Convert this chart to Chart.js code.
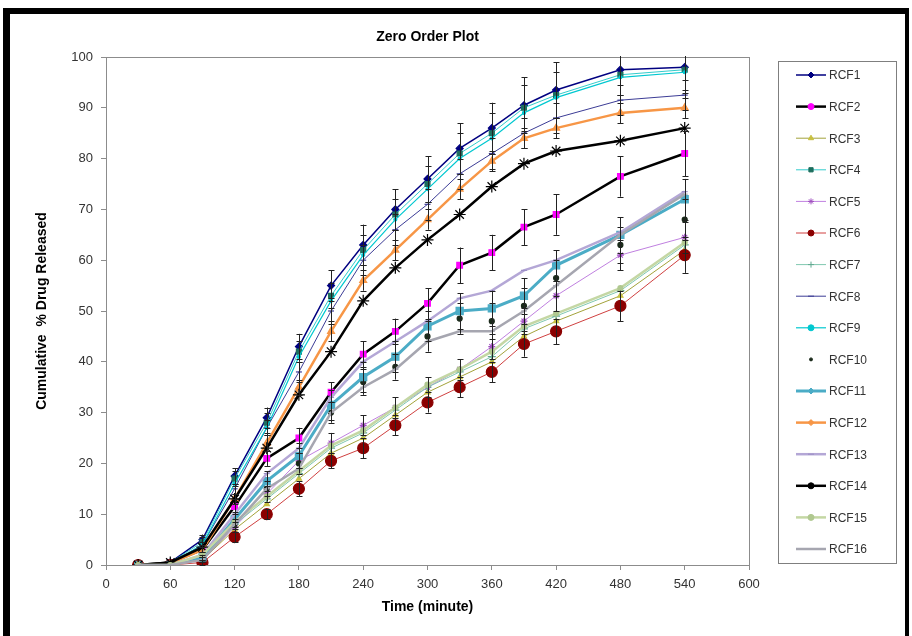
<!DOCTYPE html>
<html>
<head>
<meta charset="utf-8">
<script src="https://cdn.jsdelivr.net/npm/chart.js@4.4.1/dist/chart.umd.min.js"></script>
<style>
  html, body { margin: 0; padding: 0; background: #fff; }
  #wrap { position: relative; width: 912px; height: 636px; }
</style>
</head>
<body>
<div id="wrap"><canvas id="myChart" width="912" height="636"></canvas></div>
<script>
// --- dados ---
var time = [30, 60, 90, 120, 150, 180, 210, 240, 270, 300, 330, 360, 390, 420, 480, 540];
var xTicks = [0, 60, 120, 180, 240, 300, 360, 420, 480, 540, 600];
var seriesNames = ['RCF1','RCF2','RCF3','RCF4','RCF5','RCF6','RCF7','RCF8','RCF9','RCF10','RCF11','RCF12','RCF13','RCF14','RCF15','RCF16'];

var rcf1  = [0, 0.5, 5, 17.5, 29, 43, 55, 63, 70, 76, 82, 86, 90.5, 93.5, 97.5, 98];
var rcf2  = [0, 0.5, 3, 11.5, 21, 25, 34, 41.5, 46, 51.5, 59, 61.5, 66.5, 69, 76.5, 81];
var rcf3  = [0, 0, 1, 7, 12, 17, 22, 25, 29.5, 34, 37, 40, 45, 48, 53, 62];
var rcf4  = [0, 0.5, 4.5, 17, 28, 42, 53, 62, 69, 75, 81, 85, 90, 92.5, 96.5, 97.5];
var rcf5  = [0, 0, 1, 7.5, 14, 20.5, 24, 27.5, 31, 35, 38.5, 43, 48, 53, 61, 64.5];
var rcf6  = [0, 0, 0.5, 5.5, 10, 15, 20.5, 23, 27.5, 32, 35, 38, 43.5, 46, 51, 61];
var rcf7  = [0, 0, 1.5, 8, 13, 18, 23, 26, 30.5, 35, 38, 41, 46.5, 49, 54, 63];
var rcf8  = [0, 0.3, 4, 15, 27, 38, 50, 60, 66, 71, 77, 81, 85, 88, 91.5, 92.5];
var rcf9  = [0, 0.3, 4, 16, 27, 41, 52, 61, 68, 74, 80, 84, 89, 92, 96, 97];
var rcf10 = [0, 0, 1, 8, 15, 20, 30, 36, 39, 45, 48.5, 48, 51, 56.5, 63, 68];
var rcf11 = [0, 0, 1.5, 9, 16.5, 21.5, 31.5, 37, 41, 47, 50, 50.5, 53, 59, 65, 72];
var rcf12 = [0, 0.3, 3, 13, 24, 35, 46, 56, 62, 68, 74, 79.5, 84, 86, 89, 90];
var rcf13 = [0, 0, 2, 10, 18, 23, 33, 40, 44, 48, 52.5, 54, 58, 60, 65.5, 73.5];
var rcf14 = [0, 0.5, 3.5, 13, 23, 33.5, 42, 52, 58.5, 64, 69, 74.5, 79, 81.5, 83.5, 86];
var rcf15 = [0, 0, 2, 8.5, 13.5, 18.5, 23.5, 26.5, 31, 35.5, 38.5, 42, 47, 49.5, 54.5, 63.5];
var rcf16 = [0, 0, 1, 8, 15, 19, 30, 35, 38.5, 44, 46, 46, 50, 55, 65, 73];

// desvios (barras de erro)
var rcf1Err  = [0, 0, 1, 1.5, 2, 2.5, 3, 4, 4, 4.5, 5, 5, 5.5, 5.5, 5, 5];
var rcf2Err  = [0, 0, 0.5, 1.5, 1.5, 2, 2, 2.5, 2.5, 3, 3.5, 3.5, 3.5, 4, 4, 4.5];
var rcf4Err  = [0, 0, 1, 1.5, 2, 2, 2.5, 3, 3, 3.5, 4, 4, 4.5, 4.5, 4, 4];
var rcf5Err  = [0, 0, 0.5, 1, 1.5, 1.5, 2, 2, 2, 2, 2, 2.5, 2.5, 3, 3, 3];
var rcf6Err  = [0, 0, 0.5, 1, 1, 1.5, 1.5, 2, 2, 2, 2, 2, 2.5, 2.5, 3, 3.5];
var rcf8Err  = [0, 0, 0.5, 1, 1.5, 2, 2.5, 3, 3, 3, 3, 3, 3, 3, 3, 3];
var rcf10Err = [0, 0, 0.5, 1, 1.5, 2, 2, 2.5, 2.5, 3, 3, 3.5, 3.5, 3.5, 3.5, 4];
var rcf11Err = [0, 0, 0.5, 1.5, 2, 2.5, 3, 3, 3, 3, 3.5, 3.5, 3.5, 3, 3.5, 4];
var rcf12Err = [0, 0, 0.5, 1, 1.5, 1.5, 2, 2, 2, 2, 2, 2, 2, 2, 2, 2];

function pts(arr) {
  return time.map(function (t, i) { return { x: t, y: arr[i] }; });
}

// estilo de cada série (estilo Excel)
var styles = [
  { data: rcf1,  err: rcf1Err,  line: '#000080', lw: 1.5, pt: 'rectRot',  r: 3.5, fill: '#000080' },
  { data: rcf2,  err: rcf2Err,  line: '#000000', lw: 2.5, pt: 'rect',     r: 4,   fill: '#FF00FF' },
  { data: rcf3,  err: null,     line: '#A3A33A', lw: 1,   pt: 'triangle', r: 3,   fill: '#C8C040' },
  { data: rcf4,  err: rcf4Err,  line: '#33CCCC', lw: 1,   pt: 'rect',     r: 3.5, fill: '#1E6E5E' },
  { data: rcf5,  err: rcf5Err,  line: '#C080E0', lw: 1,   pt: 'star',     r: 3.5, fill: '#A050C0' },
  { data: rcf6,  err: rcf6Err,  line: '#D04040', lw: 1,   pt: 'circle',   r: 5.5, fill: '#8B0000' },
  { data: rcf7,  err: null,     line: '#80C8B0', lw: 1,   pt: 'cross',    r: 4,   fill: '#60A890' },
  { data: rcf8,  err: rcf8Err,  line: '#3C3C96', lw: 1,   pt: 'line',     r: 3,   fill: '#3C3C96' },
  { data: rcf9,  err: null,     line: '#00C8D0', lw: 1.2, pt: 'circle',   r: 1.5, fill: '#00C8D0' },
  { data: rcf10, err: rcf10Err, line: null,      lw: 0,   pt: 'circle',   r: 2.5, fill: '#1A2A1A' },
  { data: rcf11, err: rcf11Err, line: '#4BACC6', lw: 3,   pt: 'rect',     r: 5,   fill: '#4BACC6' },
  { data: rcf12, err: rcf12Err, line: '#F79646', lw: 2.5, pt: 'triangle', r: 4,   fill: '#F79646' },
  { data: rcf13, err: null,     line: '#B4A7D6', lw: 2.5, pt: 'line',     r: 3,   fill: '#9C8FC6' },
  { data: rcf14, err: null,     line: '#000000', lw: 2.5, pt: 'star',     r: 6,   fill: '#000000' },
  { data: rcf15, err: null,     line: '#C4D7A4', lw: 2.5, pt: 'circle',   r: 2.5, fill: '#B0C890' },
  { data: rcf16, err: null,     line: '#A6A6B0', lw: 2.5, pt: 'line',     r: 3,   fill: '#A6A6B0' }
];
// marcador na legenda (RCF14 aparece como bolinha)
var legendMarker = ['rectRot','circle','triangle','rect','star','circle','cross','line','circle','circle','rectRot','rectRot','line','circle','circle','line'];

var datasets = styles.map(function (s, i) {
  return {
    label: seriesNames[i],
    data: pts(s.data),
    errors: s.err,
    borderColor: s.line || s.fill,
    borderWidth: s.lw,
    showLine: !!s.line,
    backgroundColor: s.fill,
    pointStyle: s.pt,
    pointRadius: s.r,
    pointBorderColor: s.fill,
    pointBackgroundColor: s.fill,
    pointBorderWidth: 1.2,
    tension: 0,
    order: 16 - i
  };
});

// moldura preta + borda da área do gráfico
var framePlugin = {
  id: 'frame',
  beforeDraw: function (chart) {
    var c = chart.ctx;
    c.save();
    c.fillStyle = '#fff';
    c.fillRect(0, 0, chart.width, chart.height);
    c.fillStyle = '#000';
    c.fillRect(3, 8, 906, 6);   // topo
    c.fillRect(3, 8, 7, 628);   // esquerda
    c.fillRect(905, 8, 4, 628); // direita
    c.restore();
  },
  beforeDatasetsDraw: function (chart) {
    var a = chart.chartArea, c = chart.ctx;
    c.save();
    c.strokeStyle = '#8c8c8c';
    c.lineWidth = 1;
    c.strokeRect(Math.round(a.left) + 0.5, Math.round(a.top) + 0.5, Math.round(a.right - a.left), Math.round(a.bottom - a.top));
    c.restore();
  }
};

// barras de erro
var errorBarPlugin = {
  id: 'errbars',
  afterDatasetsDraw: function (chart) {
    var c = chart.ctx, ys = chart.scales.y, a = chart.chartArea;
    c.save();
    c.beginPath();
    c.rect(a.left, a.top - 1, a.right - a.left, a.bottom - a.top + 2);
    c.clip();
    c.strokeStyle = '#222';
    c.lineWidth = 1;
    chart.data.datasets.forEach(function (ds, di) {
      if (!ds.errors) return;
      var meta = chart.getDatasetMeta(di);
      meta.data.forEach(function (p, i) {
        var e = ds.errors[i];
        if (!e) return;
        var v = ds.data[i].y;
        var x = Math.round(p.x) + 0.5;
        var y1 = ys.getPixelForValue(v + e), y2 = ys.getPixelForValue(v - e);
        c.beginPath();
        c.moveTo(x, y1); c.lineTo(x, y2);
        c.moveTo(x - 3, Math.round(y1) + 0.5); c.lineTo(x + 3, Math.round(y1) + 0.5);
        c.moveTo(x - 3, Math.round(y2) + 0.5); c.lineTo(x + 3, Math.round(y2) + 0.5);
        c.stroke();
      });
    });
    c.restore();
  }
};

// legenda desenhada à mão (linha + marcador)
var legendPlugin = {
  id: 'boxLegend',
  afterDraw: function (chart) {
    var c = chart.ctx;
    var bx = 778, by = 61, bw = 118, bh = 502;
    c.save();
    c.strokeStyle = '#7f7f7f';
    c.lineWidth = 1;
    c.strokeRect(bx + 0.5, by + 0.5, bw, bh);
    c.font = '12px "Liberation Sans", Arial, sans-serif';
    c.textBaseline = 'middle';
    chart.data.datasets.forEach(function (ds, i) {
      var y = 75 + i * 31.6;
      if (ds.showLine) {
        c.strokeStyle = ds.borderColor;
        c.lineWidth = ds.borderWidth;
        c.beginPath();
        c.moveTo(796, y); c.lineTo(826, y);
        c.stroke();
      }
      c.fillStyle = ds.pointBackgroundColor;
      c.strokeStyle = ds.pointBorderColor;
      c.lineWidth = 1;
      Chart.helpers.drawPoint(c, {
        pointStyle: legendMarker[i],
        radius: i === 9 ? 1.5 : 3,
        rotation: 0,
        borderWidth: 1
      }, 811, y);
      c.fillStyle = '#333';
      c.fillText(ds.label, 829, y + 1);
    });
    c.restore();
  }
};

var fontFam = '"Liberation Sans", Arial, sans-serif';

var ctx = document.getElementById('myChart').getContext('2d');
var chart = new Chart(ctx, {
  type: 'scatter',
  data: { datasets: datasets },
  plugins: [framePlugin, errorBarPlugin, legendPlugin],
  options: {
    responsive: false,
    animation: false,
    events: [],
    layout: { padding: { left: 0, right: 163, top: 0, bottom: 0 } },
    plugins: {
      legend: { display: false },
      tooltip: { enabled: false },
      title: {
        display: true,
        fullSize: false,
        text: 'Zero Order Plot',
        color: '#000',
        font: { family: fontFam, size: 14, weight: 'bold' },
        padding: { top: 28.6, bottom: 11.6 }
      }
    },
    scales: {
      x: {
        type: 'linear',
        min: 0, max: 600,
        afterBuildTicks: function (s) { s.ticks = xTicks.map(function (v) { return { value: v }; }); },
        afterFit: function (s) { s.height = 71; },
        grid: { drawOnChartArea: false, tickLength: 5, color: '#8c8c8c' },
        border: { color: '#8c8c8c' },
        ticks: { color: '#333', padding: 7, maxRotation: 0, font: { family: fontFam, size: 13 } },
        title: {
          display: true, text: 'Time (minute)', color: '#000',
          font: { family: fontFam, size: 14, weight: 'bold' },
          padding: { top: 0, bottom: 20.6 }
        }
      },
      y: {
        min: 0, max: 100,
        ticks: { stepSize: 10, color: '#333', padding: 8, font: { family: fontFam, size: 13 } },
        afterFit: function (s) { s.width = 106; },
        grid: { drawOnChartArea: false, tickLength: 5, color: '#8c8c8c' },
        border: { color: '#8c8c8c' },
        title: {
          display: true, text: 'Cumulative  % Drug Released', color: '#000',
          font: { family: fontFam, size: 14, weight: 'bold' },
          padding: { top: 33.6, bottom: 0 }
        }
      }
    }
  }
});
</script>
</body>
</html>
